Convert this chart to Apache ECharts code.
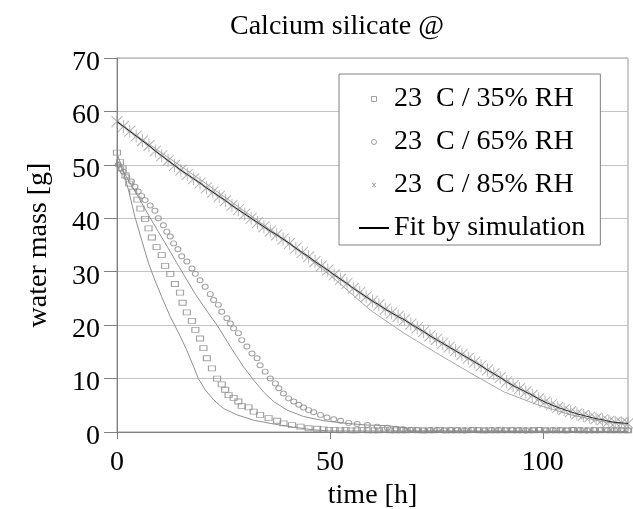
<!DOCTYPE html>
<html>
<head>
<meta charset="utf-8">
<title>Calcium silicate</title>
<script src="https://cdn.jsdelivr.net/npm/echarts@6.0.0/dist/echarts.min.js"></script>
<style>
  html, body { margin: 0; padding: 0; background: #fff; }
  #chart { width: 633px; height: 509px; }
</style>
</head>
<body>
<div id="chart"></div>
<script>
// measured water mass, [time h, mass g]
const dry35 = [
  [0, 52.3], [0.7, 50.5], [1.3, 49.3], [2.0, 48.0], [2.9, 46.5], [3.8, 45.0], [4.8, 43.5], [5.5, 41.8],
  [6.6, 39.9], [7.4, 38.1], [8.2, 36.4], [9.3, 34.6], [10.5, 33.1], [11.3, 31.1], [12.5, 29.6], [13.6, 27.7],
  [14.8, 26.1], [15.4, 24.2], [16.4, 22.4], [17.6, 20.8], [18.4, 19.1], [19.5, 17.5], [20.3, 15.7], [21.1, 13.8],
  [22.3, 11.9], [23.5, 10.0], [24.6, 8.9], [25.4, 7.9], [26.2, 6.9], [27.4, 6.4], [28.5, 5.7], [29.3, 4.9],
  [30.9, 4.6], [32.1, 3.8], [33.6, 3.2], [35.6, 2.6], [37.6, 2.1], [39.1, 1.6], [41.1, 1.3], [43.1, 1.0],
  [45.0, 0.7], [47.0, 0.6], [48.5, 0.5], [49.8, 0.4], [51.1, 0.4], [52.4, 0.3], [53.7, 0.4], [55.0, 0.3],
  [56.3, 0.3], [57.6, 0.4], [58.9, 0.3], [60.2, 0.3], [61.5, 0.3], [62.8, 0.4], [64.1, 0.3], [65.4, 0.3],
  [66.7, 0.3], [68.0, 0.3], [69.3, 0.4], [70.6, 0.3], [71.9, 0.3], [73.2, 0.3], [74.5, 0.3], [75.8, 0.4],
  [77.1, 0.3], [78.4, 0.3], [79.7, 0.3], [81.0, 0.3], [82.3, 0.3], [83.6, 0.4], [84.9, 0.3], [86.2, 0.3],
  [87.5, 0.3], [88.8, 0.3], [90.1, 0.3], [91.4, 0.4], [92.7, 0.3], [94.0, 0.3], [95.3, 0.3], [96.6, 0.3],
  [97.9, 0.3], [99.2, 0.4], [100.5, 0.3], [101.8, 0.3], [103.1, 0.3], [104.4, 0.3], [105.7, 0.3], [107.0, 0.4],
  [108.3, 0.3], [109.6, 0.3], [110.9, 0.3], [112.2, 0.3], [113.5, 0.3], [114.8, 0.4], [116.1, 0.3], [117.4, 0.3],
  [118.7, 0.3], [120.0, 0.3]
];
const dry65 = [
  [0.3, 50.0], [0.9, 49.3], [1.5, 48.7], [2.3, 47.7], [3.4, 46.9], [4.2, 45.9], [5.0, 45.0], [5.8, 44.2],
  [6.6, 43.4], [7.8, 42.4], [8.9, 41.4], [9.7, 40.0], [10.9, 38.7], [11.7, 37.5], [12.5, 36.6], [13.3, 35.3],
  [14.3, 34.2], [15.2, 32.9], [16.4, 31.9], [17.6, 30.6], [18.4, 29.6], [19.5, 28.4], [20.7, 27.2], [21.9, 25.8],
  [22.7, 24.7], [23.8, 23.8], [24.6, 22.5], [25.8, 21.3], [26.6, 20.3], [27.4, 19.4], [28.5, 18.5], [29.3, 17.2],
  [30.5, 16.0], [31.7, 14.7], [32.9, 13.8], [33.6, 12.5], [34.8, 11.3], [36.0, 10.0], [37.2, 9.1], [38.0, 8.2],
  [39.1, 7.2], [40.3, 6.3], [41.5, 5.7], [42.7, 5.1], [43.8, 4.6], [45.0, 4.1], [46.2, 3.7], [47.8, 3.2],
  [49.3, 2.7], [50.9, 2.4], [52.5, 2.1], [54.4, 1.7], [56.4, 1.5], [58.8, 1.3], [61.1, 1.0], [63.5, 0.8],
  [65.5, 0.6], [67.2, 0.5], [68.8, 0.4], [70.4, 0.4], [72.0, 0.3], [73.6, 0.4], [75.2, 0.4], [76.8, 0.3],
  [78.4, 0.4], [80.0, 0.4], [81.6, 0.3], [83.2, 0.4], [84.8, 0.4], [86.4, 0.3], [88.0, 0.4], [89.6, 0.4],
  [91.2, 0.3], [92.8, 0.4], [94.4, 0.4], [96.0, 0.3], [97.6, 0.4], [99.2, 0.4], [100.8, 0.3], [102.4, 0.4],
  [104.0, 0.4], [105.6, 0.3], [107.2, 0.4], [108.8, 0.4], [110.4, 0.3], [112.0, 0.4], [113.6, 0.4], [115.2, 0.3],
  [116.8, 0.4], [118.4, 0.4], [120.0, 0.3]
];
const dry85 = [
  [0, 58.1], [1.5, 57.2], [3, 56.3], [4.5, 55.4], [6, 54.5], [7.5, 53.6], [9, 52.6], [10.5, 51.7],
  [12, 50.8], [13.5, 49.9], [15, 49.0], [16.5, 48.2], [18, 47.4], [19.5, 46.6], [21, 45.7], [22.5, 44.9],
  [24, 44.1], [25.5, 43.3], [27, 42.4], [28.5, 41.6], [30, 40.8], [31.5, 40.0], [33, 39.2], [34.5, 38.4],
  [36, 37.6], [37.5, 36.9], [39, 36.1], [40.5, 35.3], [42, 34.4], [43.5, 33.6], [45, 32.8], [46.5, 31.9],
  [48, 31.1], [49.5, 30.3], [51, 29.4], [52.5, 28.6], [54, 27.8], [55.5, 26.9], [57, 26.1], [58.5, 25.3],
  [60, 24.5], [61.5, 23.8], [63, 23.0], [64.5, 22.3], [66, 21.6], [67.5, 21.0], [69, 20.2], [70.5, 19.5],
  [72, 18.8], [73.5, 18.0], [75, 17.3], [76.5, 16.6], [78, 15.9], [79.5, 15.2], [81, 14.5], [82.5, 13.8],
  [84, 13.1], [85.5, 12.4], [87, 11.6], [88.5, 10.9], [90, 10.2], [91.5, 9.4], [93, 8.7], [94.5, 8.1],
  [96, 7.5], [97.5, 6.9], [99, 6.2], [100.5, 5.6], [102, 5.1], [103.5, 4.6], [105, 4.2], [106.5, 3.8],
  [108, 3.4], [109.5, 3.1], [111, 2.8], [112.5, 2.5], [114, 2.3], [115.5, 2.0], [117, 1.8], [118.5, 1.7],
  [120, 1.6]
];

// simulated curves
const fit35 = [
  [0, 52.2], [1.5, 48.7], [2.7, 45.3], [4.2, 40.3], [5.8, 35.9], [7.4, 31.6], [8.9, 28.4], [10.5, 25.3],
  [12.5, 21.6], [14.8, 18.0], [16.4, 15.3], [18.0, 12.2], [19.1, 10.0], [20.7, 7.9], [22.7, 6.0], [25.0, 4.4],
  [28.2, 3.2], [32.1, 2.2], [36.8, 1.5], [41.5, 0.9], [46.2, 0.4], [50, 0.2], [120, 0.1]
];
const fit65 = [
  [0, 51.0], [1.1, 49.3], [5.0, 44.0], [7.4, 40.6], [9.7, 37.5], [12.1, 34.3], [14.0, 31.7], [16.0, 29.0],
  [18.4, 25.8], [20.3, 23.6], [22.3, 21.3], [23.5, 20.0], [26.6, 16.0], [29.7, 12.2], [32.1, 9.7], [34.4, 7.5],
  [36.8, 5.7], [39.9, 4.1], [43.8, 2.9], [48.6, 2.1], [54, 1.6], [58.8, 1.3], [63, 1.2], [63.2, 0.9],
  [68, 0.8], [68.3, 0.2], [120, 0.1]
];
const fit85 = [
  [0, 58.0], [20, 47.0], [40, 35.6], [50, 29.4], [59.5, 22.8], [67.4, 18.5], [75.2, 14.7], [83.1, 11.0],
  [90.9, 7.5], [98.7, 5.1], [106.6, 3.2], [114.4, 1.9], [120, 1.4]
];

const names = ['23  C / 35% RH', '23  C / 65% RH', '23  C / 85% RH', 'Fit by simulation'];

const FONT = "'Liberation Serif', 'Times New Roman', serif";
const SQUARE = 'path://M0,0H10V10H0Z';
const STAR = 'path://M0,0L10,10M10,0L0,10M5,-1L5,11';
const markGray = '#8a8a8a';
const fitGray = '#909090';

var chart = echarts.init(document.getElementById('chart'), null, { renderer: 'canvas' });

function fitLine(data, color, z) {
  return {
    name: names[3],
    type: 'line',
    data: data,
    symbol: 'none',
    showSymbol: false,
    z: z,
    lineStyle: { color: color, width: 1 },
    itemStyle: { color: color }
  };
}

var option = {
  animation: false,
  backgroundColor: '#fff',
  textStyle: { fontFamily: FONT, color: '#000' },
  title: {
    text: 'Calcium silicate @',
    left: 225,
    top: 8,
    textStyle: { fontFamily: FONT, fontSize: 28, fontWeight: 'normal', color: '#000' }
  },
  grid: {
    left: 117, right: 5, top: 58, bottom: 77,
    show: true, borderColor: '#999', borderWidth: 1,
    containLabel: false, outerBoundsMode: 'none'
  },
  legend: {
    orient: 'vertical',
    left: 339,
    top: 74,
    padding: [11, 15, 3, 19],
    itemGap: 15,
    itemWidth: 30,
    itemHeight: 5,
    borderColor: '#808080',
    borderWidth: 1,
    backgroundColor: '#fff',
    itemStyle: { borderWidth: 1 },
    textStyle: { fontFamily: FONT, fontSize: 28, color: '#000' },
    data: [
      { name: names[0], icon: SQUARE },
      { name: names[1], icon: 'circle' },
      { name: names[2], icon: STAR },
      // plain black line, no marker in the middle
      { name: names[3], lineStyle: { color: '#000', width: 2 }, itemStyle: { opacity: 0 } }
    ]
  },
  xAxis: {
    type: 'value',
    min: 0, max: 120, interval: 50,
    name: 'time [h]',
    nameLocation: 'middle',
    nameGap: 48,
    nameTextStyle: { fontFamily: FONT, fontSize: 28, color: '#000' },
    axisLine: { lineStyle: { color: '#808080' } },
    axisTick: { length: 7, lineStyle: { color: '#808080' } },
    axisLabel: { fontFamily: FONT, fontSize: 28, color: '#000', margin: 17, showMaxLabel: false },
    splitLine: { show: false }
  },
  yAxis: {
    type: 'value',
    min: 0, max: 70, interval: 10,
    name: 'water mass [g]',
    nameLocation: 'middle',
    nameGap: 64,
    nameTextStyle: { fontFamily: FONT, fontSize: 28, color: '#000' },
    axisLine: { show: true, lineStyle: { color: '#808080' } },
    axisTick: { show: true, length: 13, lineStyle: { color: '#808080' } },
    // labels sit a few pixels below their grid lines in the original
    axisLabel: { fontFamily: FONT, fontSize: 28, color: '#000', margin: 17, verticalAlign: 'top', lineHeight: 9 },
    splitLine: { show: true, lineStyle: { color: '#c4c4c4' } }
  },
  series: [
    // black fit line follows the 85% points, listed first so the legend takes its style
    {
      name: names[3], type: 'line', data: dry85, symbol: 'none', showSymbol: false, z: 5,
      lineStyle: { color: '#222', width: 1 }, itemStyle: { color: '#000' }
    },
    fitLine(fit35, fitGray, 2),
    fitLine(fit65, fitGray, 2),
    fitLine(fit85, '#a8a8a8', 2),
    {
      name: names[0], type: 'scatter', data: dry35, symbol: 'rect', symbolSize: [7, 5], z: 3,
      itemStyle: { color: 'transparent', borderColor: markGray, borderWidth: 1 }
    },
    {
      name: names[1], type: 'scatter', data: dry65, symbol: 'circle', symbolSize: [6, 5], z: 3,
      itemStyle: { color: 'transparent', borderColor: markGray, borderWidth: 1 }
    },
    {
      name: names[2], type: 'scatter', data: dry85, symbol: STAR, symbolSize: [11, 13], z: 3,
      itemStyle: { color: 'transparent', borderColor: '#a0a0a0', borderWidth: 1 }
    }
  ]
};

chart.setOption(option);
</script>
</body>
</html>
